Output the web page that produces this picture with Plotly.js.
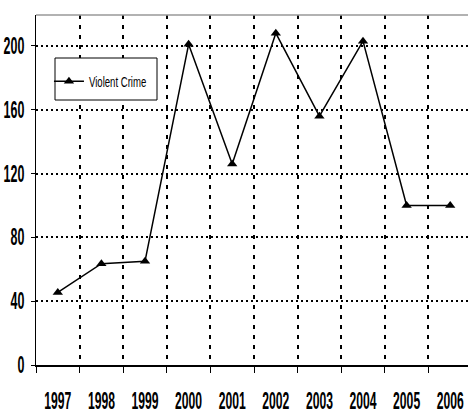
<!DOCTYPE html>
<html>
<head>
<meta charset="utf-8">
<script src="https://cdn.plot.ly/plotly-3.0.1.min.js"></script>
<style>html,body{margin:0;padding:0;background:#fff;}#chart{width:468px;height:413px;}</style>
</head>
<body>
<div id="chart"></div>
<script>
const years = ['1997','1998','1999','2000','2001','2002','2003','2004','2005','2006'];
const violentCrime = [45.5, 63.5, 65, 201, 126, 208, 156, 203, 100, 100];
const seriesName = 'Violent Crime';
const yTicks = [0, 40, 80, 120, 160, 200];

const FONT = '"Liberation Sans", Arial, sans-serif';

const trace = {
  x: years,
  y: violentCrime,
  type: 'scatter',
  mode: 'lines+markers',
  name: seriesName,
  line: {color: '#000', width: 1.5},
  marker: {symbol: 'triangle-up', size: 9, color: '#000'}
};

const layout = {
  width: 468, height: 413,
  margin: {l: 36, r: 0, t: 15, b: 48},
  paper_bgcolor: '#fff', plot_bgcolor: '#fff',
  font: {family: FONT, color: '#000'},
  showlegend: true,
  legend: {
    x: 0.03, y: 0.852, xanchor: 'left', yanchor: 'top',
    bgcolor: 'rgba(0,0,0,0)', borderwidth: 0,
    font: {family: FONT, size: 12, color: '#000'}
  },
  xaxis: {
    type: 'category',
    range: [-0.5, 9.408],
    tickson: 'boundaries',
    tickangle: 0,
    ticks: 'outside', ticklen: 6, tickwidth: 1, tickcolor: '#000',
    showgrid: true, gridcolor: '#000', gridwidth: 2, griddash: '4px,6px',
    showline: true, linecolor: '#000', linewidth: 2,
    tickfont: {family: FONT, size: 16, weight: 'bold', color: '#000'},
    ticklabelstandoff: 20,
    fixedrange: true
  },
  yaxis: {
    range: [0, 219.4],
    tickvals: yTicks,
    ticktext: yTicks.map(String),
    ticks: 'outside', ticklen: 4, tickwidth: 1, tickcolor: '#000',
    showgrid: true, gridcolor: '#000', gridwidth: 2, griddash: '2px,3px',
    zeroline: false,
    showline: true, linecolor: '#000', linewidth: 1.5,
    tickfont: {family: FONT, size: 16, weight: 'bold', color: '#000'},
    ticklabelstandoff: 3,
    fixedrange: true
  },
  shapes: [
    {type: 'line', xref: 'paper', yref: 'paper', x0: 0, x1: 1, y0: 1, y1: 1,
     line: {color: '#999', width: 1.5}},
    {type: 'rect', xref: 'paper', yref: 'paper', layer: 'above',
     x0: (55-36)/432, x1: (157-36)/432, y0: (365-100)/350, y1: (365-58)/350,
     line: {color: '#000', width: 1}, fillcolor: '#fff'}
  ]
};

function squeeze(sel, sx, sy, anchor) {
  document.querySelectorAll(sel).forEach(function (t) {
    const b = t.getBBox();
    const cx = anchor === 'end' ? b.x + b.width : (anchor === 'start' ? b.x : b.x + b.width / 2);
    const cy = b.y + b.height / 2;
    const prev = t.getAttribute('transform') || '';
    t.setAttribute('transform', prev + ' translate(' + cx + ',' + cy + ') scale(' + sx + ',' + sy + ') translate(' + (-cx) + ',' + (-cy) + ')');
  });
}

Plotly.newPlot('chart', [trace], layout, {displayModeBar: false, staticPlot: true}).then(function () {
  squeeze('.xtick text', 0.76, 1.45, 'middle');
  squeeze('.ytick text', 0.78, 1.45, 'end');
  squeeze('.legendtext', 0.8, 1.2, 'start');
});
</script>
</body>
</html>
